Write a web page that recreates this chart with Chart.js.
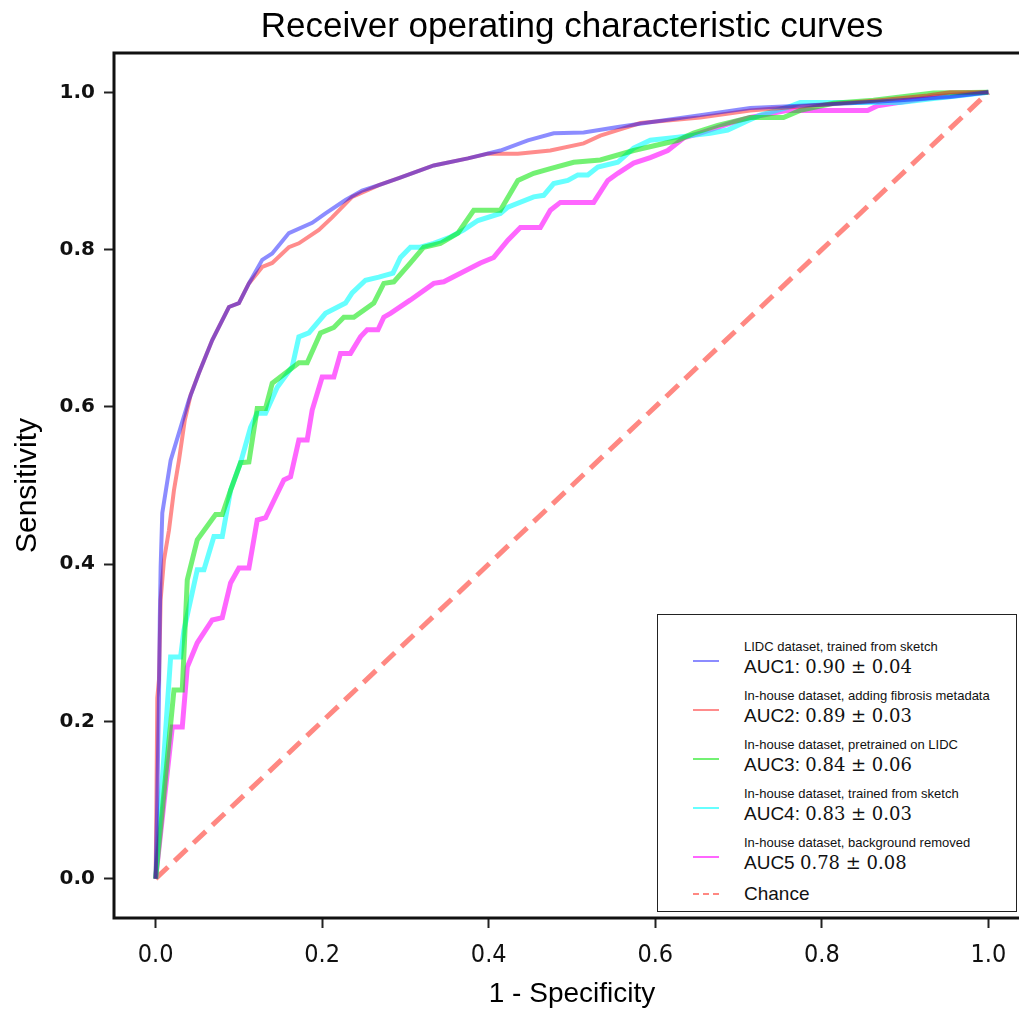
<!DOCTYPE html>
<html>
<head>
<meta charset="utf-8">
<title>ROC curves</title>
<script src="https://cdn.jsdelivr.net/npm/chart.js@4.4.1/dist/chart.umd.min.js"></script>
<style>
  html, body { margin: 0; padding: 0; background: #fff; overflow: hidden; }
  #wrap { position: relative; width: 1019px; height: 1012px; overflow: hidden; }
  #roc { display: block; }
  #legend {
    position: absolute; left: 657px; top: 614px; width: 360px; height: 298px;
    box-sizing: border-box; border: 1.5px solid #222; background: #fff;
    padding-top: 24px; color: #111;
  }
  .item { position: relative; height: 49px; }
  .swatch { position: absolute; left: 35px; top: 21px; width: 26px; height: 0; border-top: 2px solid; }
  .desc { margin-left: 86px; font: 13px/16px "Liberation Sans", Arial, sans-serif; white-space: nowrap; }
  .auc { margin-left: 86px; font: 19px/24px "Liberation Sans", Arial, sans-serif; white-space: nowrap; }
  .auc .num { font-family: "DejaVu Serif", serif; font-size: 18px; }
  .chance { position: relative; height: 30px; margin-top: -3px; }
  .chance .swatch { top: 12px; border-top: 2px dashed; }
  .chance .auc { line-height: 26px; }
</style>
</head>
<body>
<div id="wrap">
  <canvas id="roc" width="1030" height="1012"></canvas>
  <div id="legend"></div>
</div>
<script>
// --- Data ---

const xTicks = [0.0, 0.2, 0.4, 0.6, 0.8, 1.0];
const yTicks = [0.0, 0.2, 0.4, 0.6, 0.8, 1.0];

// LIDC dataset, trained from sketch
const lidcFpr = [0, 0.002, 0.004, 0.005, 0.006, 0.008, 0.018, 0.028, 0.040, 0.052, 0.068, 0.088, 0.100, 0.112, 0.128, 0.140, 0.160, 0.188, 0.204, 0.228, 0.248, 0.268, 0.292, 0.334, 0.375, 0.414, 0.447, 0.478, 0.514, 0.555, 0.594, 0.654, 0.714, 0.774, 0.834, 0.894, 0.954, 1.0];
const lidcTpr = [0, 0.10, 0.23, 0.33, 0.396, 0.465, 0.532, 0.567, 0.609, 0.643, 0.685, 0.727, 0.732, 0.757, 0.787, 0.795, 0.821, 0.834, 0.846, 0.863, 0.875, 0.882, 0.891, 0.907, 0.916, 0.926, 0.939, 0.948, 0.949, 0.956, 0.962, 0.971, 0.980, 0.983, 0.986, 0.990, 0.994, 1.0];

// In-house dataset, adding fibrosis metadata
const fibFpr = [0, 0.001, 0.002, 0.004, 0.006, 0.010, 0.016, 0.022, 0.028, 0.035, 0.042, 0.052, 0.068, 0.088, 0.100, 0.112, 0.128, 0.140, 0.160, 0.172, 0.196, 0.212, 0.236, 0.268, 0.292, 0.334, 0.375, 0.399, 0.435, 0.474, 0.514, 0.534, 0.555, 0.582, 0.654, 0.714, 0.774, 0.870, 0.927, 0.954, 1.0];
const fibTpr = [0, 0.10, 0.23, 0.253, 0.355, 0.405, 0.443, 0.494, 0.532, 0.583, 0.615, 0.643, 0.685, 0.727, 0.732, 0.757, 0.778, 0.783, 0.803, 0.808, 0.825, 0.841, 0.867, 0.882, 0.891, 0.907, 0.916, 0.922, 0.922, 0.926, 0.935, 0.945, 0.952, 0.961, 0.968, 0.977, 0.982, 0.990, 0.996, 1.0, 1.0];

// In-house dataset, pretrained on LIDC
const pretrFpr = [0, 0.022, 0.032, 0.038, 0.050, 0.072, 0.080, 0.090, 0.102, 0.112, 0.122, 0.132, 0.140, 0.156, 0.172, 0.182, 0.198, 0.214, 0.226, 0.238, 0.262, 0.274, 0.286, 0.306, 0.322, 0.342, 0.363, 0.382, 0.414, 0.435, 0.454, 0.474, 0.502, 0.534, 0.574, 0.627, 0.646, 0.675, 0.714, 0.754, 0.774, 0.814, 0.862, 0.934, 1.0];
const pretrTpr = [0, 0.240, 0.240, 0.380, 0.431, 0.463, 0.463, 0.494, 0.529, 0.530, 0.598, 0.598, 0.630, 0.643, 0.656, 0.656, 0.694, 0.701, 0.714, 0.714, 0.732, 0.757, 0.759, 0.783, 0.803, 0.808, 0.821, 0.850, 0.850, 0.888, 0.897, 0.903, 0.911, 0.914, 0.926, 0.939, 0.948, 0.958, 0.968, 0.968, 0.977, 0.986, 0.990, 0.999, 1.0];

// In-house dataset, trained from sketch
const sketchFpr = [0, 0.018, 0.030, 0.034, 0.050, 0.058, 0.070, 0.080, 0.090, 0.102, 0.114, 0.122, 0.132, 0.146, 0.164, 0.172, 0.184, 0.204, 0.228, 0.236, 0.252, 0.268, 0.285, 0.294, 0.306, 0.318, 0.334, 0.354, 0.370, 0.387, 0.414, 0.423, 0.454, 0.466, 0.478, 0.495, 0.507, 0.519, 0.531, 0.555, 0.574, 0.594, 0.627, 0.666, 0.687, 0.711, 0.726, 0.759, 0.774, 0.894, 0.934, 0.975, 1.0];
const sketchTpr = [0, 0.282, 0.282, 0.316, 0.393, 0.393, 0.435, 0.435, 0.494, 0.529, 0.574, 0.592, 0.592, 0.625, 0.651, 0.689, 0.694, 0.719, 0.732, 0.745, 0.761, 0.765, 0.770, 0.790, 0.803, 0.803, 0.808, 0.816, 0.825, 0.837, 0.846, 0.854, 0.867, 0.869, 0.884, 0.888, 0.895, 0.895, 0.905, 0.911, 0.929, 0.939, 0.943, 0.948, 0.952, 0.964, 0.971, 0.981, 0.987, 0.987, 0.992, 0.997, 1.0];

// In-house dataset, background removed
const bgFpr = [0, 0.020, 0.032, 0.038, 0.050, 0.068, 0.080, 0.090, 0.100, 0.112, 0.122, 0.132, 0.154, 0.162, 0.172, 0.182, 0.188, 0.200, 0.214, 0.222, 0.234, 0.246, 0.254, 0.267, 0.274, 0.282, 0.306, 0.334, 0.346, 0.366, 0.390, 0.406, 0.423, 0.438, 0.462, 0.474, 0.486, 0.526, 0.543, 0.555, 0.574, 0.594, 0.615, 0.634, 0.654, 0.694, 0.714, 0.759, 0.855, 0.867, 0.934, 1.0];
const bgTpr = [0, 0.193, 0.193, 0.269, 0.300, 0.329, 0.332, 0.376, 0.395, 0.395, 0.456, 0.459, 0.507, 0.511, 0.558, 0.558, 0.596, 0.638, 0.638, 0.668, 0.668, 0.689, 0.698, 0.698, 0.714, 0.719, 0.736, 0.757, 0.759, 0.770, 0.783, 0.790, 0.812, 0.828, 0.828, 0.850, 0.860, 0.860, 0.888, 0.897, 0.910, 0.917, 0.926, 0.942, 0.948, 0.962, 0.968, 0.977, 0.977, 0.983, 0.994, 1.0];

// Chance diagonal
const chanceFpr = [0, 1];
const chanceTpr = [0, 1];

// Legend texts
const legendDesc = [
  "LIDC dataset, trained from sketch",
  "In-house dataset, adding fibrosis metadata",
  "In-house dataset, pretrained on LIDC",
  "In-house dataset, trained from sketch",
  "In-house dataset, background removed"
];
const legendAuc = ["AUC1:", "AUC2:", "AUC3:", "AUC4:", "AUC5"];
const legendScore = ["0.90 ± 0.04", "0.89 ± 0.03", "0.84 ± 0.06", "0.83 ± 0.03", "0.78 ± 0.08"];
const chanceLabel = "Chance";

const colors = [
  "rgba(0,0,255,0.45)",
  "rgba(255,0,0,0.45)",
  "rgba(0,230,0,0.55)",
  "rgba(0,255,255,0.6)",
  "rgba(255,0,255,0.6)"
];
const chanceColor = "rgba(255,50,40,0.58)";

// --- Helpers ---

function $(id) {
  return document.getElementById(id);
}

function toPoints(xs, ys) {
  return xs.map((x, i) => ({ x: x, y: ys[i] }));
}

// --- Legend (html) ---

function buildLegend() {
  const box = $("legend");
  legendDesc.forEach((desc, i) => {
    const div = document.createElement("div");
    div.className = "item";
    div.innerHTML = `
      <div class="swatch" style="border-color:${colors[i]}"></div>
      <div class="desc">${desc}</div>
      <div class="auc">${legendAuc[i]} <span class="num">${legendScore[i]}</span></div>
    `;
    box.appendChild(div);
  });
  const ch = document.createElement("div");
  ch.className = "chance";
  ch.innerHTML = `
    <div class="swatch" style="border-color:${chanceColor}"></div>
    <div class="auc">${chanceLabel}</div>
  `;
  box.appendChild(ch);
}

// --- Frame round the plot area ---

const framePlugin = {
  id: "frame",
  beforeDatasetsDraw(chart) {
    const a = chart.chartArea;
    const ctx = chart.ctx;
    ctx.save();
    ctx.strokeStyle = "#111";
    ctx.lineWidth = 3;
    ctx.strokeRect(a.left, a.top, a.right - a.left, a.bottom - a.top);
    ctx.restore();
  }
};

// --- Chart ---

function initChart() {
  const series = [
    [lidcFpr, lidcTpr, 4],
    [fibFpr, fibTpr, 4],
    [pretrFpr, pretrTpr, 5],
    [sketchFpr, sketchTpr, 5],
    [bgFpr, bgTpr, 5]
  ];

  const datasets = series.map((s, i) => ({
    label: legendAuc[i] + " " + legendScore[i],
    data: toPoints(s[0], s[1]),
    borderColor: colors[i],
    borderWidth: s[2],
    pointRadius: 0,
    tension: 0,
    fill: false
  }));
  datasets.push({
    label: chanceLabel,
    data: toPoints(chanceFpr, chanceTpr),
    borderColor: chanceColor,
    borderWidth: 5,
    borderDash: [17, 9],
    pointRadius: 0,
    fill: false
  });

  new Chart($("roc").getContext("2d"), {
    type: "line",
    data: { datasets },
    plugins: [framePlugin],
    options: {
      responsive: false,
      animation: false,
      layout: { padding: 0 },
      plugins: {
        legend: { display: false },
        tooltip: { enabled: false },
        title: {
          display: true,
          fullSize: false,
          text: "Receiver operating characteristic curves",
          color: "#000",
          font: { family: "'Liberation Sans', Arial, sans-serif", size: 35, weight: "normal" },
          padding: { top: 6, bottom: 5 }
        }
      },
      scales: {
        x: {
          type: "linear",
          min: -0.05,
          max: 1.05,
          afterFit: s => { s.height = 94; },
          afterBuildTicks: s => { s.ticks = xTicks.map(v => ({ value: v })); },
          border: { display: false },
          grid: { drawOnChartArea: false, drawTicks: true, tickLength: 10, tickColor: "#222", tickWidth: 2 },
          ticks: {
            color: "#111",
            padding: 12,
            font: { family: "'Liberation Sans Narrow', 'DejaVu Sans Condensed', sans-serif", size: 25 },
            callback: v => v.toFixed(1)
          },
          title: {
            display: true,
            text: "1 - Specificity",
            color: "#000",
            font: { family: "'Liberation Sans', Arial, sans-serif", size: 28 },
            padding: { top: 0, bottom: 1 }
          }
        },
        y: {
          type: "linear",
          min: -0.05,
          max: 1.05,
          afterFit: s => { s.width = 114; },
          afterBuildTicks: s => { s.ticks = yTicks.map(v => ({ value: v })); },
          border: { display: false },
          grid: { drawOnChartArea: false, drawTicks: true, tickLength: 10, tickColor: "#222", tickWidth: 2 },
          ticks: {
            color: "#111",
            padding: 9,
            font: { family: "'DejaVu Sans', sans-serif", size: 20, weight: "bold" },
            callback: v => v.toFixed(1)
          },
          title: {
            display: true,
            text: "Sensitivity",
            color: "#000",
            font: { family: "'Liberation Sans', Arial, sans-serif", size: 30 },
            padding: { top: 10, bottom: 0 }
          }
        }
      }
    }
  });
}

// --- Init ---

window.addEventListener("DOMContentLoaded", () => {
  buildLegend();
  initChart();
});
</script>
</body>
</html>
